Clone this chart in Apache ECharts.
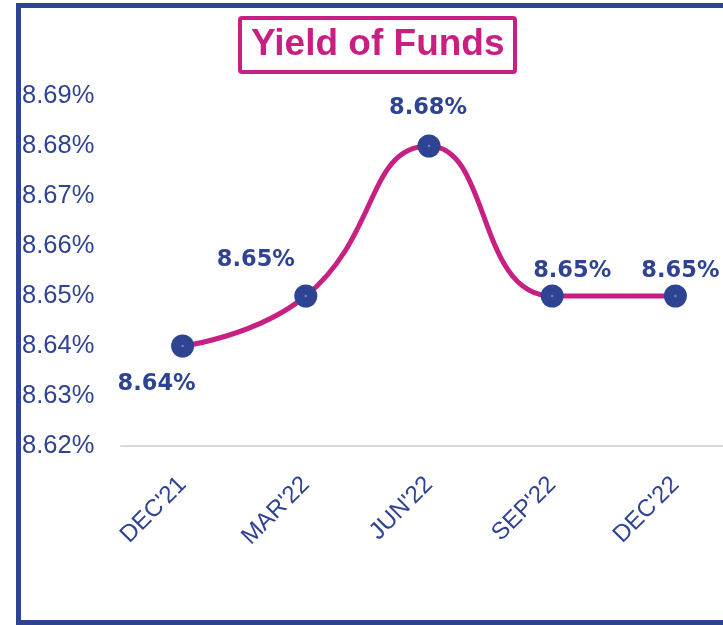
<!DOCTYPE html>
<html>
<head>
<meta charset="utf-8">
<script src="https://cdn.jsdelivr.net/npm/echarts@6/dist/echarts.min.js"></script>
<style>
html,body{margin:0;padding:0;background:#fff;}
#chart{width:723px;height:625px;}
</style>
</head>
<body>
<div id="chart"></div>
<script>
var categories = ["DEC'21", "MAR'22", "JUN'22", "SEP'22", "DEC'22"];
var yieldValues = [8.64, 8.65, 8.68, 8.65, 8.65];
var labelOffsets = [[-26, 38], [-50, -36], [-1, -38], [20, -25], [5, -25]];
var yMin = 8.62, yMax = 8.69, yStep = 0.01;

var BLUE = '#2E4392';
var MAGENTA = '#C71F82';

var chart = echarts.init(document.getElementById('chart'), null, {renderer: 'canvas'});
var seriesData = yieldValues.map(function (v, i) {
  return {
    value: v,
    label: { offset: labelOffsets[i] }
  };
});

chart.setOption({
  animation: false,
  backgroundColor: '#fff',
  graphic: [{
    type: 'rect',
    shape: { x: 18.5, y: 5.5, width: 800, height: 617 },
    style: { fill: 'none', stroke: BLUE, lineWidth: 5 },
    silent: true
  }],
  title: {
    text: 'Yield of Funds',
    left: 240,
    top: 18,
    padding: [6, 11, 6, 11],
    borderColor: MAGENTA,
    borderWidth: 4,
    borderRadius: 2,
    textStyle: {
      color: MAGENTA,
      fontFamily: 'Liberation Sans, Arial, sans-serif',
      fontWeight: 'bold',
      fontSize: 37,
      lineHeight: 42
    }
  },
  grid: { left: 121, right: -14, top: 96, bottom: 179, outerBoundsMode: 'none', containLabel: false },
  xAxis: {
    type: 'category',
    data: categories,
    boundaryGap: true,
    axisLine: { show: true, lineStyle: { color: '#D9D9D9', width: 2 } },
    axisTick: { show: false },
    axisLabel: {
      rotate: 45,
      margin: 35,
      color: BLUE,
      fontSize: 24,
      fontFamily: 'Liberation Sans, Arial, sans-serif'
    }
  },
  yAxis: {
    type: 'value',
    min: yMin,
    max: yMax,
    interval: yStep,
    axisLine: { show: false },
    axisTick: { show: false },
    splitLine: { show: false },
    axisLabel: {
      align: 'left',
      margin: 99,
      padding: [4, 0, 0, 0],
      color: BLUE,
      fontSize: 25.5,
      fontFamily: 'Liberation Sans, Arial, sans-serif',
      formatter: function (v) { return v.toFixed(2) + '%'; }
    }
  },
  series: [{
    type: 'line',
    data: seriesData,
    smooth: 0.5,
    symbol: 'circle',
    symbolSize: 23,
    lineStyle: { color: MAGENTA, width: 5 },
    itemStyle: { color: BLUE },
    label: {
      show: true,
      position: 'inside',
      color: BLUE,
      fontSize: 22.5,
      fontWeight: 'bold',
      fontFamily: 'DejaVu Sans, Verdana, sans-serif',
      formatter: function (p) { return p.value.toFixed(2) + '%'; }
    },
    z: 3
  }, {
    type: 'line',
    data: yieldValues,
    symbol: 'circle',
    symbolSize: 2.5,
    lineStyle: { width: 0, opacity: 0 },
    itemStyle: { color: '#6A86D0' },
    label: { show: false },
    z: 4
  }]
});
</script>
</body>
</html>
